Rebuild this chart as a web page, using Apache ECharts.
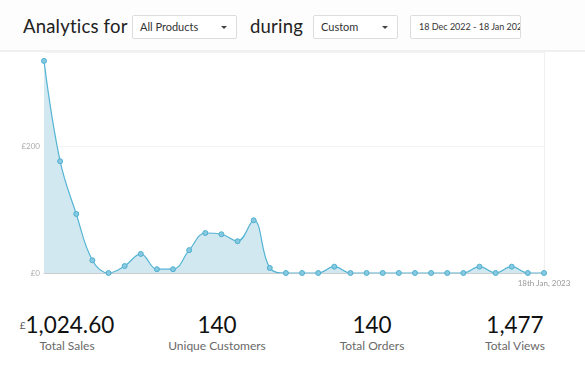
<!DOCTYPE html>
<html><head><meta charset="utf-8">
<script src="https://cdn.jsdelivr.net/npm/echarts@6/dist/echarts.min.js"></script>
<style>
body{margin:0;width:585px;height:371px;overflow:hidden;background:#fff;font-family:Lato,"Open Sans",sans-serif;position:relative}
#hdr{position:absolute;left:0;top:0;width:585px;height:50px;background:#fdfdfd;border-bottom:2px solid #f0f0f0}
.t{position:absolute;top:15px;font-size:18.5px;color:#222;letter-spacing:0.2px}
.box{position:absolute;top:15px;height:24px;border:1px solid #ddd;border-radius:2px;background:#fff;font-size:11px;color:#333;line-height:22px;padding-left:7px;box-sizing:border-box;overflow:hidden;white-space:nowrap}
.caret{position:absolute;right:9px;top:10px;width:0;height:0;border-left:3px solid transparent;border-right:3px solid transparent;border-top:3px solid #444}
#chart{position:absolute;left:0;top:0;width:585px;height:300px}
.st{position:absolute;top:311px;text-align:center;width:160px}
.st .v{font-size:22.5px;font-weight:400;color:#111;line-height:27px}
.st .l{font-size:12px;color:#6a6a6a;line-height:14px;margin-top:1px}
.st sup{font-size:10px;vertical-align:top;position:relative;top:1px;color:#555}
</style></head><body>
<div id="chart"></div>
<div id="hdr">
 <div class="t" style="left:23px">Analytics for</div>
 <div class="box" style="left:132px;width:105px">All Products<span class="caret"></span></div>
 <div class="t" style="left:250px">during</div>
 <div class="box" style="left:313px;width:85px">Custom<span class="caret"></span></div>
 <div class="box" style="left:410px;width:111px;font-size:9px;padding-left:8px">18 Dec 2022 - 18 Jan 2023</div>
</div>
<div class="st" style="left:-13px"><div class="v"><sup>£</sup>1,024.60</div><div class="l">Total Sales</div></div>
<div class="st" style="left:137px"><div class="v">140</div><div class="l">Unique Customers</div></div>
<div class="st" style="left:292px"><div class="v">140</div><div class="l">Total Orders</div></div>
<div class="st" style="left:435px"><div class="v">1,477</div><div class="l">Total Views</div></div>
<script>
const categories = ['18th Dec, 2022','19th Dec, 2022','20th Dec, 2022','21st Dec, 2022','22nd Dec, 2022','23rd Dec, 2022','24th Dec, 2022','25th Dec, 2022','26th Dec, 2022','27th Dec, 2022','28th Dec, 2022','29th Dec, 2022','30th Dec, 2022','31st Dec, 2022','1st Jan, 2023','2nd Jan, 2023','3rd Jan, 2023','4th Jan, 2023','5th Jan, 2023','6th Jan, 2023','7th Jan, 2023','8th Jan, 2023','9th Jan, 2023','10th Jan, 2023','11th Jan, 2023','12th Jan, 2023','13th Jan, 2023','14th Jan, 2023','15th Jan, 2023','16th Jan, 2023','17th Jan, 2023','18th Jan, 2023'];
const sales = [334,176,93,20,0,11,30,6,6,36,63,61,50,83,8,0,0,0,10,0,0,0,0,0,0,0,0,10,0,10,0,0];
const yTicks = [0,200];
const chart = echarts.init(document.getElementById('chart'));
chart.setOption({
  animation:false,
  grid:{left:44,right:41,top:52,bottom:27},
  xAxis:{type:'category',data:categories,boundaryGap:false,
    axisLine:{lineStyle:{color:'#ccc'}},axisTick:{show:false},
    axisLabel:{interval:(i)=>i===categories.length-1,color:'#999',fontSize:8,margin:6,fontFamily:'Lato'},
    splitLine:{show:true,interval:(i)=>i===categories.length-1,lineStyle:{color:'#f0f0f0'}}},
  yAxis:{type:'value',min:0,max:348,interval:200,
    axisLine:{show:false},axisTick:{show:false},
    axisLabel:{formatter:(v)=>yTicks.includes(v)?'£'+v:'',color:'#aaa',fontSize:8,margin:4,fontFamily:'Lato'},
    splitLine:{lineStyle:{color:'#f3f3f3'}}},
  series:[{type:'line',data:sales,smooth:0.4,symbol:'circle',symbolSize:5,
    lineStyle:{color:'#55b4d4',width:1.2},
    itemStyle:{color:'#86c9e0',borderColor:'#4fb0d0',borderWidth:1},
    areaStyle:{color:'#d2e8f0',opacity:1}}]
});
</script>
</body></html>
